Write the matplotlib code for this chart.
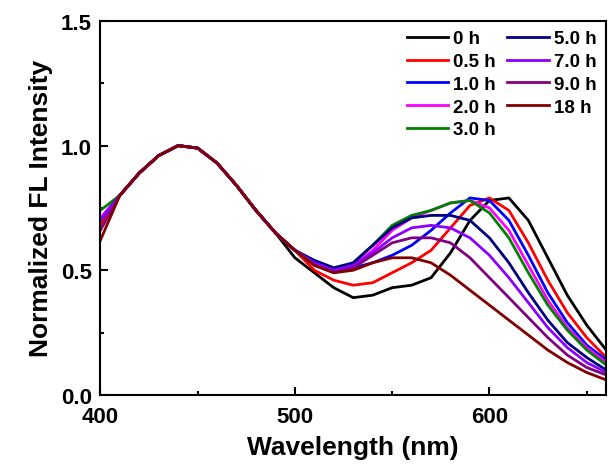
import matplotlib
matplotlib.use('Agg')
import matplotlib.pyplot as plt
import numpy as np

plt.rcParams['font.family'] = ['Liberation Sans', 'DejaVu Sans']
plt.rcParams['font.weight'] = 'bold'

wl = np.arange(400, 661, 10)
left = [0.80, 0.89, 0.96, 1.0, 0.99, 0.93, 0.84, 0.74, 0.65, 0.58]  # 410..500

labels = ['0 h', '0.5 h', '1.0 h', '2.0 h', '3.0 h', '5.0 h', '7.0 h', '9.0 h', '18 h']
colors = ['black', 'red', 'blue', '#ff00ff', 'green', '#000080', '#8b00ff', '#800080', '#800000']
start = [0.70, 0.68, 0.70, 0.71, 0.74, 0.70, 0.70, 0.66, 0.62]
tail = [
    [0.49, 0.43, 0.39, 0.40, 0.43, 0.44, 0.47, 0.57, 0.70, 0.78, 0.79, 0.70, 0.55, 0.40, 0.28, 0.18],
    [0.50, 0.46, 0.44, 0.45, 0.49, 0.53, 0.58, 0.67, 0.76, 0.79, 0.74, 0.61, 0.46, 0.33, 0.23, 0.15],
    [0.53, 0.50, 0.51, 0.53, 0.56, 0.60, 0.66, 0.73, 0.79, 0.78, 0.70, 0.56, 0.41, 0.29, 0.20, 0.14],
    [0.53, 0.50, 0.52, 0.58, 0.66, 0.71, 0.74, 0.77, 0.78, 0.75, 0.66, 0.52, 0.38, 0.27, 0.19, 0.13],
    [0.53, 0.50, 0.53, 0.60, 0.68, 0.72, 0.74, 0.77, 0.78, 0.73, 0.63, 0.49, 0.36, 0.26, 0.18, 0.12],
    [0.54, 0.51, 0.53, 0.60, 0.67, 0.71, 0.72, 0.72, 0.70, 0.63, 0.53, 0.41, 0.30, 0.21, 0.15, 0.10],
    [0.53, 0.50, 0.52, 0.57, 0.63, 0.67, 0.68, 0.67, 0.63, 0.56, 0.47, 0.37, 0.27, 0.19, 0.13, 0.09],
    [0.52, 0.49, 0.51, 0.56, 0.61, 0.63, 0.63, 0.61, 0.55, 0.47, 0.39, 0.31, 0.23, 0.16, 0.11, 0.08],
    [0.52, 0.49, 0.50, 0.53, 0.55, 0.55, 0.53, 0.48, 0.42, 0.36, 0.30, 0.24, 0.18, 0.13, 0.09, 0.06],
]

fig = plt.figure(figsize=(6.08, 4.77), dpi=100)
ax = fig.add_axes([0.165, 0.17, 0.832, 0.784])
for s, t, c, lab in zip(start, tail, colors, labels):
    y = [s] + left + t
    if lab == '0 h':
        y[10] = 0.55
    ax.plot(wl, y, color=c, lw=2, label=lab)

ax.set_xlim(400, 660)
ax.set_ylim(0, 1.5)
ax.set_xticks([400, 500, 600])
ax.set_xticks([450, 550, 650], minor=True)
ax.set_yticks([0, 0.5, 1.0, 1.5])
ax.set_yticks([0.25, 0.75, 1.25], minor=True)
ax.tick_params(which='both', direction='in', width=1.5, labelsize=16)
ax.tick_params(axis='x', pad=8)
ax.tick_params(axis='y', pad=6)
ax.tick_params(which='major', length=6)
ax.tick_params(which='minor', length=3)
for sp in ax.spines.values():
    sp.set_linewidth(1.5)
ax.set_xlabel('Wavelength (nm)', fontsize=19, fontweight='bold', labelpad=6)
ax.set_ylabel('Normalized FL Intensity', fontsize=19, fontweight='bold', labelpad=6)
ax.legend(ncol=2, loc='upper right', frameon=False, fontsize=13.5, handlelength=2.2,
          labelspacing=0.3, columnspacing=0.6, handletextpad=0.3, borderaxespad=0.1)
fig.savefig('out.png')
